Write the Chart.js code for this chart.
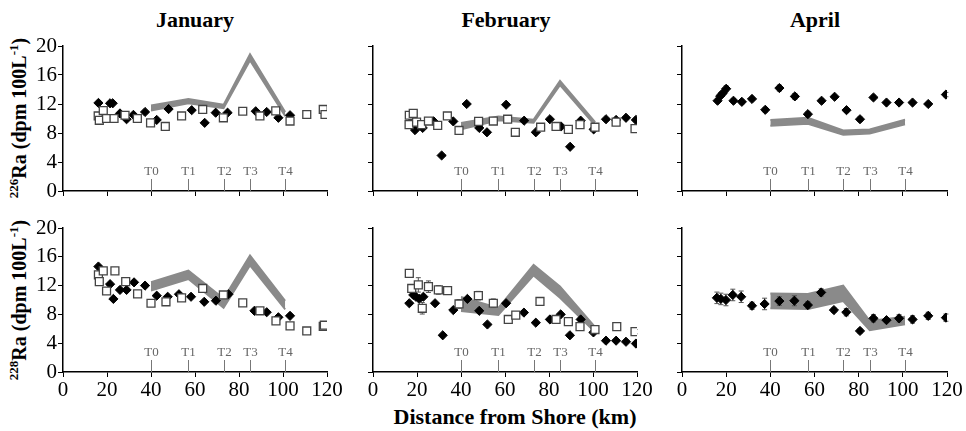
<!DOCTYPE html>
<html>
<head>
<meta charset="utf-8">
<script src="https://cdn.jsdelivr.net/npm/chart.js@4.4.1/dist/chart.umd.min.js"></script>
<style>
body { margin: 0; background: #fff; width: 966px; height: 431px; position: relative; overflow: hidden; font-family: "Liberation Serif", serif; }
canvas { position: absolute; }
.ttl { position: absolute; font-weight: bold; font-size: 22px; transform: translate(-50%, -50%); white-space: nowrap; }
.ylab { position: absolute; font-weight: bold; font-size: 20px; line-height: 1; white-space: nowrap; transform: translate(-50%, -50%) rotate(-90deg); }
.ylab sup { font-size: 13px; }
</style>
</head>
<body>
<div class="ttl" style="left:195px;top:20px">January</div>
<div class="ttl" style="left:506px;top:20px">February</div>
<div class="ttl" style="left:815px;top:20px">April</div>
<div class="ylab" style="left:18px;top:118px"><sup>226</sup>Ra (dpm 100L<sup>-1</sup>)</div>
<div class="ylab" style="left:18px;top:300px"><sup>228</sup>Ra (dpm 100L<sup>-1</sup>)</div>
<div class="ttl" style="left:515px;top:417px">Distance from Shore (km)</div>

<canvas id="janTop"></canvas>
<canvas id="febTop"></canvas>
<canvas id="aprTop"></canvas>
<canvas id="janBot"></canvas>
<canvas id="febBot"></canvas>
<canvas id="aprBot"></canvas>

<script>
// axis ranges
const xMin = 0, xMax = 120, xStep = 20;
const yMin = 0, yMax = 20, yStep = 4;

// transect stations (km) and their labels
const tKm = [40, 57, 73, 85, 101];
const tLabels = ['T0', 'T1', 'T2', 'T3', 'T4'];

// 226Ra, [km, dpm/100L]
const jan226Open = [[16,10.35],[16.5,9.75],[18.3,11.1],[19.8,10],[23.2,10],[28.2,10.45],[33.8,10],[39.8,9.4],[46.5,8.9],[53.9,10.35],[63.5,11.25],[72.9,10.1],[81.7,11],[89.5,10.35],[96.7,11.05],[103.2,9.65],[110.8,10.55],[118.3,11.25],[119.1,10.55]];
const jan226Filled = [[16.1,12.15],[21.4,12.1],[22.6,12.1],[25.9,10.7],[28.9,9.9],[32,10.5],[37.3,10.9],[42.6,9.8],[48,11.3],[58.5,11.15],[64.4,9.4],[69.4,10.8],[74.8,10.8],[87.6,11],[92.6,10.9],[97.9,10.1],[103.2,10.45]];
const jan226Upper = [11.8, 12.7, 11.9, 18.9, 10.9];
const jan226Lower = [11.1, 12.1, 11.4, 18.0, 10.3];

const feb226Open = [[16.5,10.45],[18.3,10.7],[16.4,9.15],[19.8,9.5],[22.1,9.15],[25.2,9.65],[29.4,9.05],[33.8,10.35],[39.1,8.35],[48,9.6],[54.7,9.65],[61.2,9.9],[64.7,8.1],[76.2,8.8],[83.2,8.9],[88.8,8.5],[94.1,9.15],[100.9,8.8],[110.5,9.5],[119.1,8.6]];
const feb226Filled = [[17.5,9.6],[19.1,8.4],[22.6,8.7],[27.6,9.6],[31.2,4.9],[36.5,9.6],[42.6,12],[48.3,8.7],[51.8,8.1],[60.5,11.9],[68.7,9.7],[74,8.1],[80.4,9.9],[85.5,8.9],[89.6,6.1],[94.4,9.7],[100.3,8.5],[105.9,9.9],[110.5,9.8],[115,10.1],[119.5,9.8]];
const feb226Upper = [9.4, 10.3, 9.85, 15.2, 9.5];
const feb226Lower = [8.5, 9.75, 9.4, 14.6, 9.0];

const apr226Filled = [[16.1,12.45],[17.3,13.1],[18.5,13.5],[20,14.1],[23.3,12.45],[27.1,12.3],[31.7,12.7],[37.7,11.2],[44.1,14.2],[51.1,13.05],[57,10.6],[63.2,12.45],[69.1,13],[74.5,11.15],[80.6,9.9],[86.7,12.9],[92.6,12.2],[98.3,12.2],[104.4,12.2],[111.5,12],[119.5,13.3]];
const apr226FilledErr = [0.3,0.3,0.3,0.4,0.3,0.3,0.2,0.3,0.4,0.4,0.3,0.3,0.2,0.3,0.3,0.3,0.2,0.2,0.2,0.2,0.3];
const apr226Upper = [9.8, 10.1, 8.35, 8.5, 9.85];
const apr226Lower = [9.0, 9.25, 7.75, 7.9, 9.2];

// 228Ra, [km, dpm/100L]
const jan228Open = [[16.1,13.5],[16.5,12.55],[18.3,14.05],[19.8,11.25],[23.6,14.05],[28.5,12.55],[33.9,10.85],[40,9.55],[46.8,9.75],[53.9,10.3],[63.5,11.6],[72.9,10.7],[81.7,9.6],[89.5,8.5],[96.8,7.1],[103.2,6.4],[110.8,5.7],[118.3,6.35],[118.8,6.5]];
const jan228Filled = [[16.1,14.65],[21.4,12.2],[22.9,10.15],[25.9,11.4],[28.9,11.4],[32.3,12.45],[37.3,12],[42.6,10.6],[47.6,10.45],[52.7,10.8],[58.2,10.45],[64.2,9.75],[69.5,9.9],[75.2,10.8],[87,8.5],[92.6,8.3],[97.9,7.6],[103.2,7.8]];
const jan228Upper = [12.5, 14.1, 10.2, 16.2, 9.9];
const jan228Lower = [11.3, 12.9, 8.9, 14.8, 8.7];

const feb228Open = [[16.5,13.7],[17.6,11.6],[20.6,12.1],[22.4,8.85],[25.2,11.85],[29.7,11.4],[33.9,11.3],[39.1,9.45],[47.9,10.6],[54.7,9.55],[61.5,7.3],[64.9,7.9],[75.9,9.8],[83.2,7.3],[88.8,7],[94.1,6.3],[100.9,5.9],[110.8,6.3],[119.1,5.6]];
const feb228OpenErr = [0.5,0.5,1.0,0.8,0.8,0.6,0.3,0.6,0.6,0.6,0.3,0.3,0.3,0.3,0.3,0.3,0.3,0.3,0.3];
const feb228Filled = [[16.5,9.55],[18.3,10.7],[19.5,10.45],[21,10.15],[22.9,10.45],[28.2,9.55],[31.7,5.1],[36.5,8.6],[42.9,10.15],[48.3,8.5],[52,6.6],[60.5,9.55],[68.6,8.25],[74,6.85],[80.4,7.3],[85.3,8],[89.5,5.1],[94.4,7.3],[100.2,5.5],[105.9,4.35],[110.5,4.35],[115,4.2],[119.5,3.95]];
const feb228Upper = [10.45, 8.9, 14.9, 11.9, 6.25];
const feb228Lower = [8.45, 7.9, 13.4, 10.3, 5.5];

const apr228Filled = [[15.8,10.3],[17.6,10.15],[19.9,10],[23,10.7],[26.8,10.45],[31.7,9.2],[37.4,9.45],[44.1,9.85],[50.9,9.9],[57,9.3],[63,11.05],[68.8,8.6],[74.4,8.3],[80.6,5.7],[86.7,7.45],[92.6,7.2],[98.3,7.45],[104.4,7.3],[111.5,7.8],[119.5,7.55]];
const apr228FilledErr = [0.8,0.8,0.8,0.8,0.8,0.5,0.8,0.6,0.7,0.5,0.5,0.3,0.5,0.3,0.5,0.3,0.5,0.5,0.5,0.5];
const apr228Upper = [10.9, 10.85, 12.0, 7.1, 7.7];
const apr228Lower = [8.85, 8.75, 9.85, 5.8, 6.6];

Chart.defaults.font.family = '"Liberation Serif", serif';
Chart.defaults.font.size = 21;
Chart.defaults.color = '#000';

const AX_W = 50, PAD_T = 14, PAD_R = 22, AX_H = 36;
const bandColor = 'rgb(138,138,138)';

const extras = {
  id: 'extras',
  beforeDatasetsDraw(chart) {
    const ctx = chart.ctx, x = chart.scales.x, a = chart.chartArea;
    ctx.save();
    ctx.strokeStyle = '#777';
    ctx.fillStyle = '#666';
    ctx.lineWidth = 1;
    ctx.font = '13px "Liberation Serif"';
    ctx.textAlign = 'center';
    ctx.textBaseline = 'middle';
    tKm.forEach((km, i) => {
      const px = Math.round(x.getPixelForValue(km)) + 0.5;
      ctx.beginPath();
      ctx.moveTo(px, a.bottom);
      ctx.lineTo(px, a.bottom - 12);
      ctx.stroke();
      ctx.fillText(tLabels[i], px, a.bottom - 19);
    });
    ctx.restore();
  },
  beforeDatasetDraw(chart, args) {
    const ds = chart.data.datasets[args.index];
    if (!ds.errors) return;
    const ctx = chart.ctx, x = chart.scales.x, y = chart.scales.y;
    ctx.save();
    ctx.strokeStyle = '#555';
    ctx.lineWidth = 1;
    ds.data.forEach((p, i) => {
      const e = ds.errors[i];
      if (!e) return;
      const px = x.getPixelForValue(p.x);
      const y1 = y.getPixelForValue(p.y + e), y2 = y.getPixelForValue(p.y - e);
      ctx.beginPath();
      ctx.moveTo(px, y1); ctx.lineTo(px, y2);
      ctx.moveTo(px - 2.5, y1); ctx.lineTo(px + 2.5, y1);
      ctx.moveTo(px - 2.5, y2); ctx.lineTo(px + 2.5, y2);
      ctx.stroke();
    });
    ctx.restore();
  }
};

const toPts = arr => arr.map(p => ({ x: p[0], y: p[1] }));

function makePanel(id, left, top, plotW, plotH, cfg) {
  const cv = document.getElementById(id);
  const w = AX_W + plotW + PAD_R, h = PAD_T + plotH + AX_H;
  cv.width = w; cv.height = h;
  cv.style.width = w + 'px'; cv.style.height = h + 'px';
  cv.style.left = (left - AX_W) + 'px';
  cv.style.top = (top - PAD_T) + 'px';

  const datasets = [];
  if (cfg.open) datasets.push({
    data: toPts(cfg.open), errors: cfg.openErr,
    pointStyle: 'rect', pointRadius: 5.6,
    pointBackgroundColor: '#fff', pointBorderColor: '#444', pointBorderWidth: 1.3
  });
  if (cfg.filled) datasets.push({
    data: toPts(cfg.filled), errors: cfg.filledErr,
    pointStyle: 'rectRot', pointRadius: 4.6,
    pointBackgroundColor: '#000', pointBorderColor: '#000', pointBorderWidth: 1
  });
  datasets.push({
    type: 'line', data: tKm.map((km, i) => ({ x: km, y: cfg.upper[i] })),
    borderColor: bandColor, borderWidth: 1.8, pointRadius: 0, fill: false, tension: 0
  });
  datasets.push({
    type: 'line', data: tKm.map((km, i) => ({ x: km, y: cfg.lower[i] })),
    borderColor: bandColor, borderWidth: 1.8, pointRadius: 0, tension: 0,
    fill: '-1', backgroundColor: bandColor
  });

  new Chart(cv, {
    type: 'scatter',
    data: { datasets },
    options: {
      responsive: false,
      animation: false,
      events: [],
      layout: { padding: { top: PAD_T, right: PAD_R, left: 0, bottom: 0 } },
      plugins: { legend: { display: false }, tooltip: { enabled: false } },
      scales: {
        x: {
          type: 'linear', min: xMin, max: xMax,
          ticks: { stepSize: xStep, display: cfg.xLabels, padding: 1, maxRotation: 0 },
          grid: { drawOnChartArea: false, drawTicks: true, tickLength: 5, color: '#000' },
          border: { color: '#000', width: 1.5 },
          afterFit: s => { s.height = AX_H; }
        },
        y: {
          type: 'linear', min: yMin, max: yMax,
          ticks: { stepSize: yStep, display: cfg.yLabels, padding: 1 },
          grid: { drawOnChartArea: false, drawTicks: true, tickLength: 5, color: '#000' },
          border: { color: '#000', width: 1.5 },
          afterFit: s => { s.width = AX_W; }
        }
      }
    },
    plugins: [extras]
  });
}

makePanel('janTop', 63, 46, 264, 145, { open: jan226Open, filled: jan226Filled, upper: jan226Upper, lower: jan226Lower, xLabels: false, yLabels: true });
makePanel('febTop', 373, 46, 264, 145, { open: feb226Open, filled: feb226Filled, upper: feb226Upper, lower: feb226Lower, xLabels: false, yLabels: false });
makePanel('aprTop', 682, 46, 265, 145, { filled: apr226Filled, filledErr: apr226FilledErr, upper: apr226Upper, lower: apr226Lower, xLabels: false, yLabels: false });
makePanel('janBot', 63, 228, 264, 144, { open: jan228Open, filled: jan228Filled, upper: jan228Upper, lower: jan228Lower, xLabels: true, yLabels: true });
makePanel('febBot', 373, 228, 264, 144, { open: feb228Open, openErr: feb228OpenErr, filled: feb228Filled, upper: feb228Upper, lower: feb228Lower, xLabels: true, yLabels: false });
makePanel('aprBot', 682, 228, 265, 144, { filled: apr228Filled, filledErr: apr228FilledErr, upper: apr228Upper, lower: apr228Lower, xLabels: true, yLabels: false });
</script>
</body>
</html>
